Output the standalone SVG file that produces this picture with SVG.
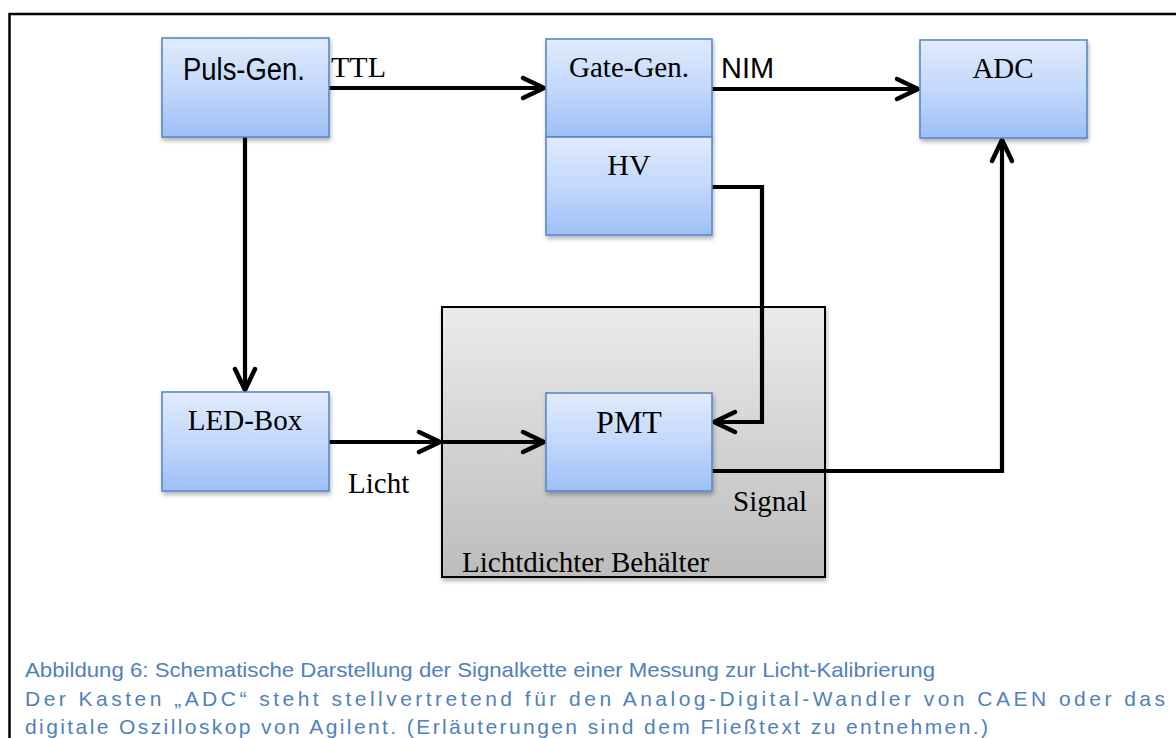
<svg xmlns="http://www.w3.org/2000/svg" width="1176" height="738" viewBox="0 0 1176 738">
  <style>
    .box { fill: url(#blueGrad); stroke: #5a88c6; stroke-width: 1.6; filter: url(#shadow); }
    .serif { font-family: "Liberation Serif", "Times New Roman", serif; fill: #000; }
    .sans { font-family: "Liberation Sans", Arial, sans-serif; fill: #000; }
    .conn { fill: none; stroke: #000; stroke-width: 4.2; stroke-linejoin: miter; marker-end: url(#arrow); }
    .cap { font-family: "Liberation Sans", Arial, sans-serif; fill: #4f81bd; font-size: 21px; }
  </style>
  <defs>
    <linearGradient id="blueGrad" x1="0" y1="0" x2="0" y2="1">
      <stop offset="0" stop-color="#e0ebfd"/>
      <stop offset="0.5" stop-color="#c3d8fb"/>
      <stop offset="1" stop-color="#9dbff7"/>
    </linearGradient>
    <linearGradient id="greyGrad" x1="0" y1="0" x2="0" y2="1">
      <stop offset="0" stop-color="#ebebeb"/>
      <stop offset="1" stop-color="#bcbcbc"/>
    </linearGradient>
    <filter id="shadow" x="-10%" y="-10%" width="125%" height="130%">
      <feGaussianBlur in="SourceAlpha" stdDeviation="2"/>
      <feOffset dx="1" dy="3" result="b"/>
      <feComponentTransfer><feFuncA type="linear" slope="0.3"/></feComponentTransfer>
      <feMerge><feMergeNode/><feMergeNode in="SourceGraphic"/></feMerge>
    </filter>
    <marker id="arrow" markerUnits="userSpaceOnUse" viewBox="-28 -16 34 32" markerWidth="34" markerHeight="32" refX="0" refY="0" orient="auto">
      <path d="M-21,-10 L0,0 L-21,10" fill="none" stroke="#000" stroke-width="4.5" stroke-linecap="round" stroke-linejoin="round"/>
    </marker>
  </defs>

  <rect x="0" y="0" width="1176" height="738" fill="#fff"/>
  <!-- outer frame -->
  <path d="M9.5,760 V14 H1190" fill="none" stroke="#000" stroke-width="2.5"/>

  <g id="container">
    <rect x="442" y="307" width="383" height="270" fill="url(#greyGrad)" stroke="#000" stroke-width="2" filter="url(#shadow)"/>
    <text class="serif" x="462" y="572" font-size="29">Lichtdichter Behälter</text>
    <text class="serif" x="733" y="511" font-size="29">Signal</text>
  </g>

  <g id="connectors">
    <path class="conn" d="M329,88 H544"/>
    <path class="conn" d="M712,89 H918"/>
    <path class="conn" d="M245,136 V390"/>
    <path class="conn" d="M712,187 H762 V422 H714"/>
    <path class="conn" d="M329,442 H440"/>
    <path class="conn" d="M442,442 H544"/>
    <path class="conn" d="M712,471 H1002 V140"/>
    <text class="serif" x="331" y="77" font-size="30">TTL</text>
    <text class="sans" x="721" y="78" font-size="29" textLength="53" lengthAdjust="spacingAndGlyphs">NIM</text>
    <text class="serif" x="348" y="493" font-size="29">Licht</text>
  </g>

  <g id="puls-gen">
    <rect class="box" x="162" y="38" width="167" height="99"/>
    <text class="sans" x="244" y="80" font-size="31" text-anchor="middle" textLength="122" lengthAdjust="spacingAndGlyphs">Puls-Gen.</text>
  </g>
  <g id="gate-gen">
    <rect class="box" x="546" y="39" width="166" height="98"/>
    <text class="serif" x="629" y="77" font-size="29" text-anchor="middle">Gate-Gen.</text>
  </g>
  <g id="hv">
    <rect class="box" x="546" y="137" width="166" height="98"/>
    <text class="serif" x="629" y="175" font-size="30" text-anchor="middle">HV</text>
  </g>
  <g id="adc">
    <rect class="box" x="920" y="40" width="167" height="98"/>
    <text class="serif" x="1003" y="78" font-size="29" text-anchor="middle">ADC</text>
  </g>
  <g id="led-box">
    <rect class="box" x="162" y="392" width="167" height="99"/>
    <text class="serif" x="245" y="430" font-size="29" text-anchor="middle">LED-Box</text>
  </g>
  <g id="pmt">
    <rect class="box" x="546" y="393" width="166" height="98"/>
    <text class="serif" x="629" y="433" font-size="32" text-anchor="middle">PMT</text>
  </g>

  <g id="caption">
    <text class="cap" x="25" y="677" textLength="910" lengthAdjust="spacingAndGlyphs">Abbildung 6: Schematische Darstellung der Signalkette einer Messung zur Licht-Kalibrierung</text>
    <text class="cap" x="25" y="706" textLength="1140" lengthAdjust="spacing">Der Kasten „ADC“  steht stellvertretend für den Analog-Digital-Wandler von CAEN oder das</text>
    <text class="cap" x="25" y="734" textLength="963" lengthAdjust="spacing">digitale Oszilloskop von Agilent. (Erläuterungen sind dem Fließtext zu entnehmen.)</text>
  </g>
</svg>
